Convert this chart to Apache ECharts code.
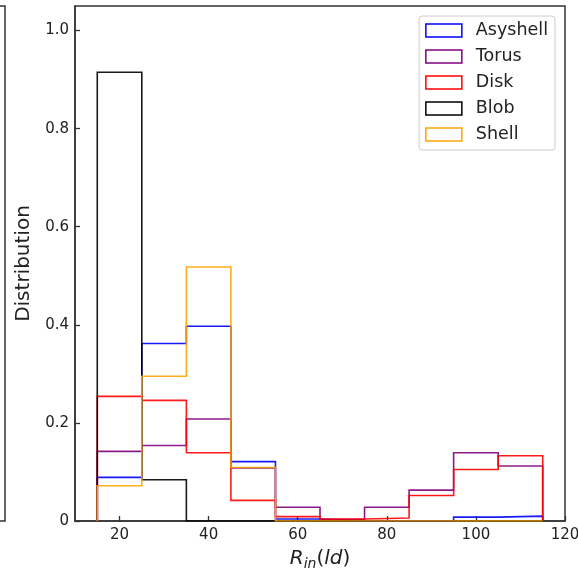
<!DOCTYPE html>
<html>
<head>
<meta charset="utf-8">
<script src="https://cdn.jsdelivr.net/npm/echarts@6/dist/echarts.min.js"></script>
<style>
html,body{margin:0;padding:0;background:#fff;}
#chart{width:578px;height:573px;}
</style>
</head>
<body>
<div id="chart"></div>
<script>
// Histogram bin edges (R_in, ld)
var binEdges = [15, 25, 35, 45, 55, 65, 75, 85, 95, 105, 115];
// Normalised distributions per bin
var asyshell = [0.089, 0.362, 0.397, 0.121, 0.004, 0.000, 0.000, 0.000, 0.008, 0.010];
var torus    = [0.142, 0.154, 0.208, 0.108, 0.028, 0.003, 0.028, 0.063, 0.139, 0.112];
var disk     = [0.254, 0.246, 0.139, 0.042, 0.009, 0.004, 0.006, 0.052, 0.105, 0.133];
var blob     = [0.915, 0.084, 0.000, 0.000, 0.000, 0.000, 0.000, 0.000, 0.000, 0.000];
var shell    = [0.072, 0.295, 0.518, 0.109, 0.000, 0.000, 0.000, 0.000, 0.000, 0.000];
var seriesNames = ['Asyshell', 'Torus', 'Disk', 'Blob', 'Shell'];
var xTickLabels = [20, 40, 60, 80, 100, 120];
var yTickLabels = [0, 0.2, 0.4, 0.6, 0.8, 1.0];

var seriesValues = [asyshell, torus, disk, blob, shell];
var colors = ['#0000ff', '#800080', '#ff0000', '#000000', '#ffa500'];

// step outline (matplotlib histtype='step') from edges & values
function stepOutline(edges, vals) {
  var pts = [[edges[0], 0]];
  for (var i = 0; i < vals.length; i++) {
    pts.push([edges[i], vals[i]]);
    pts.push([edges[i + 1], vals[i]]);
  }
  pts.push([edges[edges.length - 1], 0]);
  return pts;
}

var chart = echarts.init(document.getElementById('chart'), null, {renderer: 'canvas'});
var frame = '#333333';
var series = seriesNames.map(function (n, i) {
  return {
    name: n,
    type: 'line',
    data: stepOutline(binEdges, seriesValues[i]),
    showSymbol: false,
    symbol: 'none',
    lineStyle: {color: colors[i], width: 1.6, opacity: 0.9, join: 'miter'},
    itemStyle: {color: colors[i]},
    z: 2 + i,
    animation: false
  };
});

chart.setOption({
  animation: false,
  backgroundColor: '#fff',
  textStyle: {fontFamily: 'DejaVu Sans'},
  grid: {left: 75, right: 13, top: 6, bottom: 52, show: true, borderColor: frame, borderWidth: 1.5,
         containLabel: false, outerBoundsMode: 'none'},
  graphic: [
    // edge of the neighbouring panel, cropped at the left of the picture
    {type: 'polyline', silent: true, shape: {points: [[0, 6], [5, 6], [5, 521], [0, 521]]},
     style: {stroke: frame, lineWidth: 1.5, fill: null}}
  ],
  legend: {
    orient: 'vertical',
    right: 23,
    top: 16,
    align: 'left',
    icon: 'rect',
    itemWidth: 36,
    itemHeight: 13,
    itemGap: 8,
    padding: [5.5, 7, 6.5, 6],
    borderColor: '#cccccc',
    borderWidth: 1,
    borderRadius: 3,
    backgroundColor: 'rgba(255,255,255,0.8)',
    textStyle: {fontFamily: 'DejaVu Sans', fontSize: 17.5, color: '#222', padding: [0, 0, 0, 9]},
    data: seriesNames.map(function (n, i) {
      return {name: n, itemStyle: {color: '#ffffff', borderColor: colors[i], borderWidth: 1.5}};
    })
  },
  xAxis: {
    type: 'value',
    min: 10, max: 120,
    splitLine: {show: false},
    axisLine: {show: true, onZero: false, lineStyle: {color: frame, width: 1.5}},
    axisTick: {show: true, inside: true, length: 5, customValues: xTickLabels, lineStyle: {color: frame, width: 1.3}},
    axisLabel: {customValues: xTickLabels, fontFamily: 'DejaVu Sans', fontSize: 15, color: '#222', margin: 7},
    name: '{r|R}{s|in}{p|(}{r|ld}{p|)}',
    nameLocation: 'middle',
    nameGap: 26,
    nameTextStyle: {
      rich: {
        r: {fontFamily: 'DejaVu Sans', fontStyle: 'italic', fontSize: 20, color: '#222'},
        p: {fontFamily: 'DejaVu Sans', fontSize: 20, color: '#222'},
        s: {fontFamily: 'DejaVu Sans', fontStyle: 'italic', fontSize: 14, color: '#222', padding: [10, 0, 0, 0]}
      }
    }
  },
  yAxis: {
    type: 'value',
    min: 0, max: 1.05,
    splitLine: {show: false},
    axisLine: {show: true, lineStyle: {color: frame, width: 1.5}},
    axisTick: {show: true, inside: true, length: 5, customValues: yTickLabels, lineStyle: {color: frame, width: 1.3}},
    axisLabel: {
      customValues: yTickLabels, fontFamily: 'DejaVu Sans', fontSize: 15, color: '#222', margin: 6,
      formatter: function (v) { return v === 0 ? '0' : v.toFixed(1); }
    },
    name: 'Distribution',
    nameLocation: 'middle',
    nameGap: 29,
    nameTextStyle: {fontFamily: 'DejaVu Sans', fontSize: 20, color: '#222'}
  },
  series: series
});
</script>
</body>
</html>
